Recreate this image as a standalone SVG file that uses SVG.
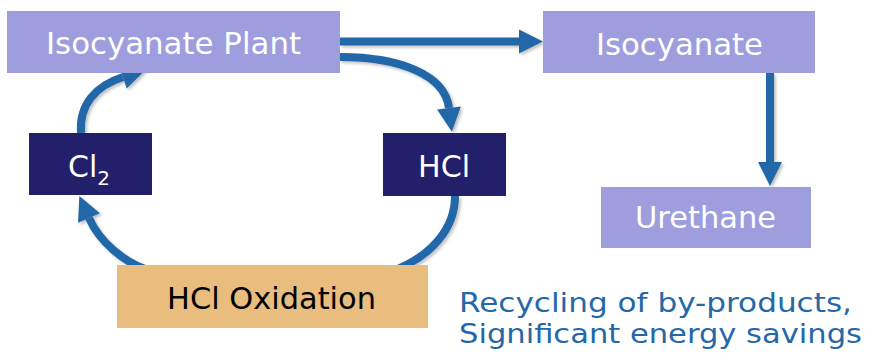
<svg xmlns="http://www.w3.org/2000/svg" width="869" height="357" viewBox="0 0 869 357">
<style>
.lp{fill:#9E9DDE}
.nv{fill:#22206A}
.or{fill:#E8BD7E}
.t{font-family:"DejaVu Sans","Verdana",sans-serif;font-size:30px}
.n{font-size:26px}
.w{fill:#FFFFFF}
.k{fill:#000000}
.b{fill:#2468A8}
.c{fill:none;stroke:#2268A8;stroke-width:8}
</style>
<defs>
<marker id="ah" markerUnits="userSpaceOnUse" markerWidth="28" markerHeight="28" viewBox="0 -14 28 28" refX="0" refY="0" orient="auto" overflow="visible">
<path d="M0,-12 L24,0 L0,12 z" fill="#2268A8"/>
</marker>
<filter id="sh" x="-10%" y="-10%" width="130%" height="130%">
<feDropShadow dx="2" dy="2" stdDeviation="1.5" flood-color="#000" flood-opacity="0.25"/>
</filter>
</defs>
<g id="connectors" filter="url(#sh)">
<path class="c" d="M340,41.5 H519" marker-end="url(#ah)"/>
<path class="c" d="M770,73 V162" marker-end="url(#ah)"/>
<path class="c" d="M340,57 C400,57 445,75 449,108" marker-end="url(#ah)"/>
<path class="c" d="M81,133 C79,105 95,86 123,77" marker-end="url(#ah)"/>
<path class="c" d="M455,196 C455,230 430,255 398,269"/>
<path class="c" d="M145,269 C125,262 100,243 89,218" marker-end="url(#ah)"/>
</g>
<g id="plant">
<rect class="lp" x="7" y="11" width="333" height="62"/>
<text class="t w" x="173.5" y="54" text-anchor="middle" textLength="255" lengthAdjust="spacingAndGlyphs">Isocyanate Plant</text>
</g>
<g id="isocyanate">
<rect class="lp" x="543" y="11" width="272" height="62"/>
<text class="t w" x="679.5" y="55" text-anchor="middle" textLength="167" lengthAdjust="spacingAndGlyphs">Isocyanate</text>
</g>
<g id="urethane">
<rect class="lp" x="601" y="187" width="210" height="61"/>
<text class="t w" x="705.5" y="228" text-anchor="middle" textLength="141" lengthAdjust="spacingAndGlyphs">Urethane</text>
</g>
<g id="cl2">
<rect class="nv" x="29" y="133" width="123" height="62"/>
<text class="t w" x="68" y="177">Cl<tspan font-size="20" dy="8">2</tspan></text>
</g>
<g id="hcl">
<rect class="nv" x="383" y="133" width="123" height="63"/>
<text class="t w" x="444" y="177" text-anchor="middle" textLength="52" lengthAdjust="spacingAndGlyphs">HCl</text>
</g>
<g id="oxidation">
<rect class="or" x="117" y="265" width="311" height="63"/>
<text class="t k" x="271.5" y="309" text-anchor="middle" textLength="209" lengthAdjust="spacingAndGlyphs">HCl Oxidation</text>
</g>
<g id="note">
<text class="t n b" x="459" y="312" textLength="393" lengthAdjust="spacingAndGlyphs">Recycling of by-products,</text>
<text class="t n b" x="459" y="343" textLength="403" lengthAdjust="spacingAndGlyphs">Significant energy savings</text>
</g>
</svg>
